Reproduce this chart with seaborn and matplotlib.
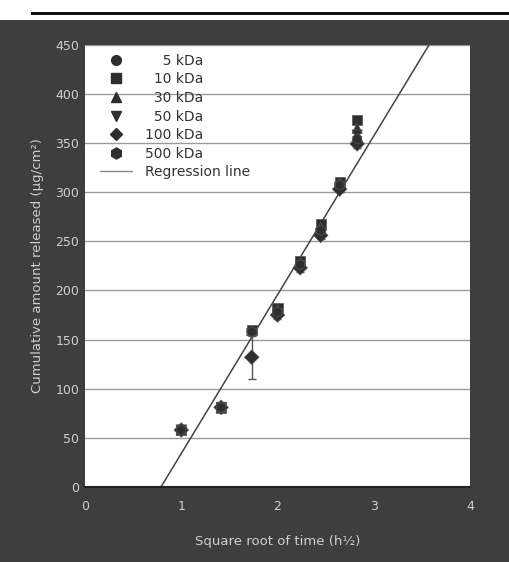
import numpy as np
import pandas as pd
import matplotlib
matplotlib.use("Agg")
import matplotlib.pyplot as plt
from matplotlib.patches import Rectangle
from matplotlib.lines import Line2D
import seaborn as sns

# ---- data ----
sqrt_time = [1.0, 1.414, 1.732, 2.0, 2.236, 2.449, 2.646, 2.828]
series = ["5 kDa", "10 kDa", "30 kDa", "50 kDa", "100 kDa", "500 kDa"]
kda_5 = [58, 81, 158, 178, 226, 261, 307, 351]
kda_10 = [58, 81, 160, 182, 230, 267, 310, 373]
kda_30 = [58, 81, 159, 180, 228, 264, 309, 365]
kda_50 = [58, 81, 156, 176, 225, 258, 305, 358]
kda_100 = [58, 81, 132, 175, 223, 256, 303, 349]
kda_500 = [58, 81, 158, 178, 226, 261, 307, 354]
err_100 = [2, 2, 22, 4, 4, 4, 3, 4]
reg_slope = 161.5
reg_intercept = -127.5
x_ticks = [0, 1, 2, 3, 4]
y_ticks = [0, 50, 100, 150, 200, 250, 300, 350, 400, 450]

values = [kda_5, kda_10, kda_30, kda_50, kda_100, kda_500]
df = pd.DataFrame({
    "x": sqrt_time * len(series),
    "y": sum(values, []),
    "series": [s for s in series for _ in sqrt_time],
})

sns.set_theme(style="white")
plt.rcParams["font.family"] = ["DejaVu Sans"]

BG = "#3e3e3e"
TXT = "#cfcfcf"
MK = "#2e2e2e"

fig = plt.figure(figsize=(5.10, 5.62), dpi=100, facecolor=BG)
# scanned page strip at the top
fig.patches.append(Rectangle((0, 1 - 20 / 562), 1, 20 / 562, transform=fig.transFigure,
                             facecolor="white", edgecolor="none", zorder=0))
fig.patches.append(Rectangle((0.06, 1 - 15 / 562), 0.94, 3 / 562, transform=fig.transFigure,
                             facecolor="#111111", edgecolor="none", zorder=1))

ax = fig.add_axes([85 / 510, 1 - 487 / 562, 385 / 510, (487 - 44.6) / 562])
ax.set_facecolor("white")

markers = {"5 kDa": "o", "10 kDa": "s", "30 kDa": "^", "50 kDa": "v",
           "100 kDa": "D", "500 kDa": "h"}
sizes_pt = {"5 kDa": 7, "10 kDa": 6.5, "30 kDa": 7, "50 kDa": 7, "100 kDa": 6, "500 kDa": 8}

ax.errorbar(sqrt_time, kda_100, yerr=err_100, fmt="none", ecolor="#555555",
            elinewidth=1, capsize=3, zorder=2)

sns.scatterplot(data=df, x="x", y="y", style="series", markers=markers,
                color=MK, edgecolor="#555555", linewidth=0.5, s=55, ax=ax,
                legend=False, zorder=3)

ax.axline((0, reg_intercept), slope=reg_slope, color="#444444", lw=1.1, zorder=2)

ax.set_xlim(0, 4)
ax.set_ylim(0, 450)
ax.set_xticks(x_ticks)
ax.set_yticks(y_ticks)
ax.yaxis.grid(True, color="#9a9a9a", lw=1.0)
ax.xaxis.grid(False)
for s in ["top", "right", "left"]:
    ax.spines[s].set_visible(False)
ax.spines["bottom"].set_color("#222222")
ax.spines["bottom"].set_linewidth(1.5)
ax.tick_params(axis="x", colors=TXT, length=5, width=1.5, direction="out", labelsize=9, pad=4)
ax.tick_params(axis="y", colors=TXT, length=0, labelsize=9, pad=4)
ax.set_xlabel("Square root of time (h½)", color=TXT, fontsize=9.5, labelpad=16)
ax.set_ylabel("Cumulative amount released (µg/cm²)", color=TXT, fontsize=9.5, labelpad=8)

fs = "\u2007"
labels = [fs * 2 + "5 kDa", fs + "10 kDa", fs + "30 kDa", fs + "50 kDa", "100 kDa", "500 kDa", "Regression line"]
handles = [Line2D([], [], ls="none", marker=markers[s], color=MK, markersize=sizes_pt[s])
           for s in series]
handles.append(Line2D([], [], color="#888888", lw=1.0))
ax.legend(handles, labels, loc="upper left", bbox_to_anchor=(0.02, 0.995), frameon=False,
          fontsize=10, labelspacing=0.33, handlelength=2.3, handletextpad=1.0,
          borderaxespad=0.1, labelcolor="#333333")

fig.savefig("out.png", dpi=100, facecolor=BG)
